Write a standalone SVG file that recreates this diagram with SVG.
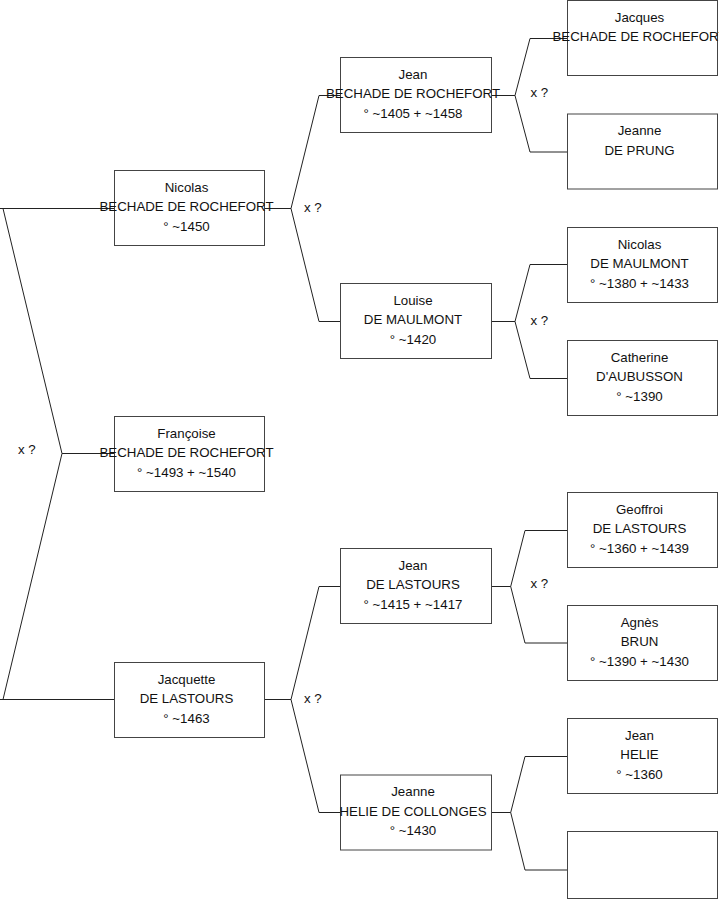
<svg xmlns="http://www.w3.org/2000/svg" width="719" height="908" viewBox="0 0 719 908">
<style>
.box{fill:#fff;stroke:#444;stroke-width:1}
.ln{fill:none;stroke:#222;stroke-width:1}
text{font-family:"Liberation Sans",Arial,sans-serif;font-size:13.3px;fill:#111}
.c{text-anchor:middle}
</style>
<rect width="719" height="908" fill="#fff"/>
<g id="connectors" class="ln">
<path d="M0,208.5 H114.5 M0,699.5 H114.5 M3,208.5 L62,453.5 L3,699.5 M62,453.5 H114.5"/>
<path d="M264.5,208.5 H291 L319,95.5 H340.5 M291,208.5 L319,321.5 H340.5"/>
<path d="M264.5,699.5 H291 L319,586.5 H340.5 M291,699.5 L319,812.5 H340.5"/>
<path d="M491.5,95.5 H515 L530,38.5 H567.5 M515,95.5 L530,152 H567.5"/>
<path d="M491.5,321.5 H515 L530,264.5 H567.5 M515,321.5 L530,378.5 H567.5"/>
<path d="M491.5,586.5 H510.7 L525,530.5 H567.5 M510.7,586.5 L525,643 H567.5"/>
<path d="M491.5,812.5 H510.7 L525,756.5 H567.5 M510.7,812.5 L525,870 H567.5"/>
</g>
<g id="labels">
<text x="18" y="454">x ?</text>
<text x="304" y="212">x ?</text>
<text x="304" y="703">x ?</text>
<text x="530.5" y="97">x ?</text>
<text x="530.5" y="325">x ?</text>
<text x="530.5" y="588">x ?</text>
</g>
<g id="francoise">
<rect class="box" x="114.5" y="416.5" width="150" height="75"/>
<text class="c" x="186.5" y="437.5">Françoise</text>
<text class="c" x="186.5" y="457.2">BECHADE DE ROCHEFORT</text>
<text class="c" x="186.5" y="476.9">° ~1493 + ~1540</text>
</g>
<g id="nicolas">
<rect class="box" x="114.5" y="170.5" width="150" height="75"/>
<text class="c" x="186.5" y="191.5">Nicolas</text>
<text class="c" x="186.5" y="211.2">BECHADE DE ROCHEFORT</text>
<text class="c" x="186.5" y="230.9">° ~1450</text>
</g>
<g id="jacquette">
<rect class="box" x="114.5" y="662.5" width="150" height="75"/>
<text class="c" x="186.5" y="683.5">Jacquette</text>
<text class="c" x="186.5" y="703.2">DE LASTOURS</text>
<text class="c" x="186.5" y="722.9">° ~1463</text>
</g>
<g id="jean-bechade">
<rect class="box" x="340.5" y="57.5" width="151" height="75"/>
<text class="c" x="413" y="78.5">Jean</text>
<text class="c" x="413" y="98.2">BECHADE DE ROCHEFORT</text>
<text class="c" x="413" y="117.9">° ~1405 + ~1458</text>
</g>
<g id="louise">
<rect class="box" x="340.5" y="283.5" width="151" height="75"/>
<text class="c" x="413" y="304.5">Louise</text>
<text class="c" x="413" y="324.2">DE MAULMONT</text>
<text class="c" x="413" y="343.9">° ~1420</text>
</g>
<g id="jean-lastours">
<rect class="box" x="340.5" y="548.5" width="151" height="75"/>
<text class="c" x="413" y="569.5">Jean</text>
<text class="c" x="413" y="589.2">DE LASTOURS</text>
<text class="c" x="413" y="608.9">° ~1415 + ~1417</text>
</g>
<g id="jeanne-helie">
<rect class="box" x="340.5" y="775" width="151" height="75"/>
<text class="c" x="413" y="796">Jeanne</text>
<text class="c" x="413" y="815.7">HELIE DE COLLONGES</text>
<text class="c" x="413" y="835.4">° ~1430</text>
</g>
<g id="jacques">
<rect class="box" x="567.5" y="0.5" width="150" height="75"/>
<text class="c" x="639.5" y="21.5">Jacques</text>
<text class="c" x="639.5" y="41.2">BECHADE DE ROCHEFORT</text>
</g>
<g id="jeanne-prung">
<rect class="box" x="567.5" y="114" width="150" height="75"/>
<text class="c" x="639.5" y="135">Jeanne</text>
<text class="c" x="639.5" y="154.7">DE PRUNG</text>
</g>
<g id="nicolas-maulmont">
<rect class="box" x="567.5" y="227.5" width="150" height="75"/>
<text class="c" x="639.5" y="248.5">Nicolas</text>
<text class="c" x="639.5" y="268.2">DE MAULMONT</text>
<text class="c" x="639.5" y="287.9">° ~1380 + ~1433</text>
</g>
<g id="catherine">
<rect class="box" x="567.5" y="340.5" width="150" height="75"/>
<text class="c" x="639.5" y="361.5">Catherine</text>
<text class="c" x="639.5" y="381.2">D'AUBUSSON</text>
<text class="c" x="639.5" y="400.9">° ~1390</text>
</g>
<g id="geoffroi">
<rect class="box" x="567.5" y="492.5" width="150" height="75"/>
<text class="c" x="639.5" y="513.5">Geoffroi</text>
<text class="c" x="639.5" y="533.2">DE LASTOURS</text>
<text class="c" x="639.5" y="552.9">° ~1360 + ~1439</text>
</g>
<g id="agnes">
<rect class="box" x="567.5" y="605.5" width="150" height="75"/>
<text class="c" x="639.5" y="626.5">Agnès</text>
<text class="c" x="639.5" y="646.2">BRUN</text>
<text class="c" x="639.5" y="665.9">° ~1390 + ~1430</text>
</g>
<g id="jean-helie">
<rect class="box" x="567.5" y="718.5" width="150" height="75"/>
<text class="c" x="639.5" y="739.5">Jean</text>
<text class="c" x="639.5" y="759.2">HELIE</text>
<text class="c" x="639.5" y="778.9">° ~1360</text>
</g>
<g id="empty">
<rect class="box" x="567.5" y="831.5" width="150" height="67"/>
</g>
</svg>
